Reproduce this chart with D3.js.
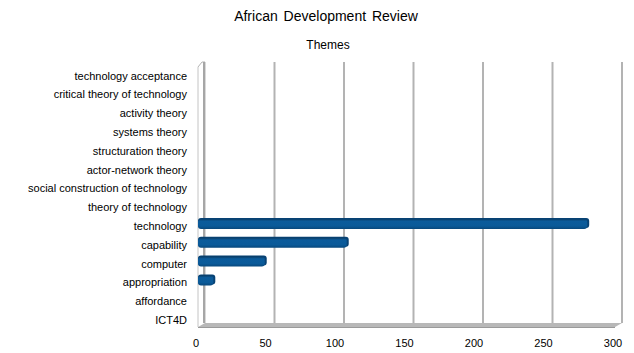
<!DOCTYPE html>
<html>
<head>
<meta charset="utf-8">
<script src="https://cdn.jsdelivr.net/npm/d3@7"></script>
<style>
  body { margin: 0; background: #fff; }
  svg { font-family: "Liberation Sans", Arial, sans-serif; }
</style>
</head>
<body>
<div id="chart"></div>
<script>
const categories = ['technology acceptance', 'critical theory of technology', 'activity theory',
    'systems theory', 'structuration theory', 'actor-network theory',
    'social construction of technology', 'theory of technology', 'technology',
    'capability', 'computer', 'appropriation', 'affordance', 'ICT4D'];
const counts = [0, 0, 0, 0, 0, 0, 0, 0, 280, 107, 48, 11, 0, 0];
const xTicks = [0, 50, 100, 150, 200, 250, 300];

function drawChart() {
    const width = 634, height = 353;
    // back wall of the pseudo 3d plot, front plane is shifted by dx/dy
    const wallTop = 62, wallBottom = 323;
    const dx = -7, dy = 4;

    const svg = d3.select("#chart").append("svg")
        .attr("width", width)
        .attr("height", height);

    const x = d3.scaleLinear().domain([0, 300]).range([205, 622]);
    const y = d3.scalePoint().domain(categories).range([75.5, 320]);

    svg.append("text")
        .attr("x", 326).attr("y", 21)
        .attr("text-anchor", "middle")
        .attr("font-size", 14)
        .attr("word-spacing", 2)
        .text("African Development Review");

    svg.append("text")
        .attr("x", 328).attr("y", 49)
        .attr("text-anchor", "middle")
        .attr("font-size", 12)
        .text("Themes");

    // grid lines on the back wall
    svg.append("g")
        .selectAll("line")
        .data(xTicks.slice(1))
        .join("line")
            .attr("x1", d => x(d)).attr("x2", d => x(d))
            .attr("y1", wallTop).attr("y2", wallBottom)
            .attr("stroke", "#b3b3b3")
            .attr("stroke-width", 2);

    // left wall
    const x0 = x(0);
    svg.append("path")
        .attr("d", `M${x0 + dx},${wallTop + 5} L${x0 - 3},${wallTop} L${x0},${wallTop} L${x0},${wallBottom}`)
        .attr("fill", "none")
        .attr("stroke", "#b3b3b3")
        .attr("stroke-width", 1);
    svg.append("line")
        .attr("x1", x0 - 1).attr("x2", x0 - 1)
        .attr("y1", wallTop).attr("y2", wallBottom)
        .attr("stroke", "#a6a6a6")
        .attr("stroke-width", 2);
    svg.append("line")
        .attr("x1", x0 + dx).attr("x2", x0 + dx)
        .attr("y1", wallTop + 5).attr("y2", wallBottom + dy)
        .attr("stroke", "#c4c4c4")
        .attr("stroke-width", 1);

    // floor slab
    const xEnd = x(300);
    svg.append("path")
        .attr("d", `M${x0 + dx},${wallBottom + dy} L${x0},${wallBottom} L${xEnd},${wallBottom} L${xEnd + dx},${wallBottom + dy} Z`)
        .attr("fill", "#b8b8b8");
    svg.append("line")
        .attr("x1", x0 + dx).attr("x2", xEnd + dx)
        .attr("y1", wallBottom + dy + 0.5).attr("y2", wallBottom + dy + 0.5)
        .attr("stroke", "#9a9a9a")
        .attr("stroke-width", 1);

    // category labels
    svg.append("g")
        .selectAll("text")
        .data(categories)
        .join("text")
            .attr("x", 187)
            .attr("y", d => y(d) + 4)
            .attr("text-anchor", "end")
            .attr("font-size", 11)
            .text(d => d);

    // value labels along the front edge
    svg.append("g")
        .selectAll("text")
        .data(xTicks)
        .join("text")
            .attr("x", d => x(d) + dx - 2)
            .attr("y", 347)
            .attr("text-anchor", "middle")
            .attr("font-size", 11)
            .text(d => d);

    // bars
    const defs = svg.append("defs");
    const grad = defs.append("linearGradient")
        .attr("id", "barGrad")
        .attr("x1", 0).attr("x2", 0).attr("y1", 0).attr("y2", 1);
    grad.append("stop").attr("offset", "0%").attr("stop-color", "#0a3d66");
    grad.append("stop").attr("offset", "22%").attr("stop-color", "#0b5b9b");
    grad.append("stop").attr("offset", "70%").attr("stop-color", "#0a5a99");
    grad.append("stop").attr("offset", "100%").attr("stop-color", "#08487c");

    const barH = 10;
    const bars = svg.append("g")
        .selectAll("g")
        .data(categories.map((c, i) => ({cat: c, value: counts[i]})).filter(d => d.value > 0))
        .join("g");

    bars.append("rect")
        .attr("x", x(0) + dx)
        .attr("y", d => y(d.cat) - 8)
        .attr("width", d => x(d.value) - x(0) + 2)
        .attr("height", barH)
        .attr("rx", 3)
        .attr("fill", "#074274");

    bars.append("rect")
        .attr("x", x(0) + dx)
        .attr("y", d => y(d.cat) - 7)
        .attr("width", d => x(d.value) - x(0))
        .attr("height", barH)
        .attr("rx", 3)
        .attr("fill", "url(#barGrad)");
}

drawChart();
</script>
</body>
</html>
